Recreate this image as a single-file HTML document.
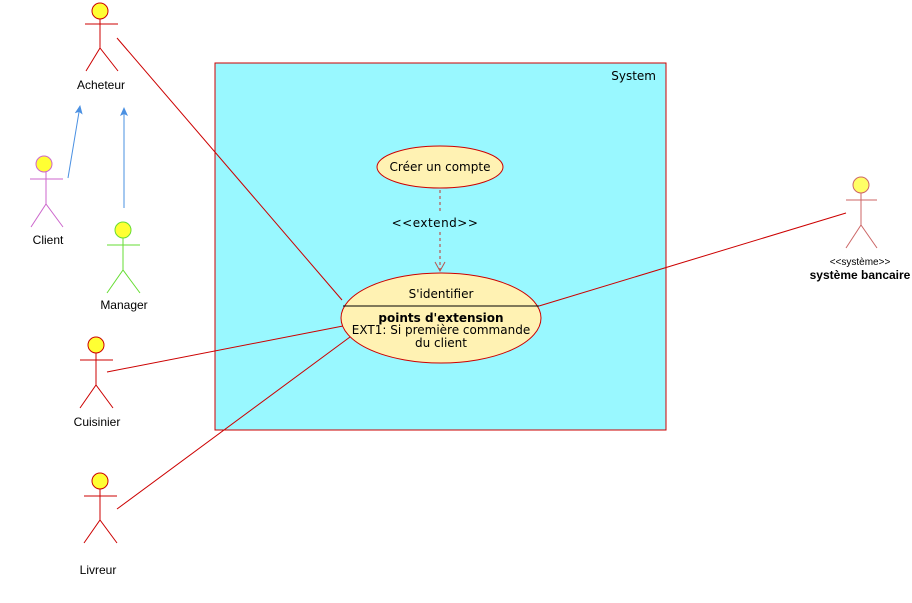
<!DOCTYPE html>
<html><head><meta charset="utf-8"><style>
html,body{margin:0;padding:0;background:#fff;}
svg{display:block;font-family:"Liberation Sans","DejaVu Sans",sans-serif;}
.dj{font-family:"DejaVu Sans","Liberation Sans",sans-serif;}
</style></head><body>
<svg width="912" height="603" viewBox="0 0 912 603" xmlns="http://www.w3.org/2000/svg">
<defs>
<marker id="blue" markerWidth="10" markerHeight="10" refX="8" refY="5" orient="auto" markerUnits="userSpaceOnUse"><path d="M0,1 L9,5 L0,9 L2,5 Z" fill="#4a90e2"/></marker>
<marker id="open" markerWidth="12" markerHeight="12" refX="10" refY="6" orient="auto" markerUnits="userSpaceOnUse"><path d="M1,1 L10,6 L1,11" fill="none" stroke="#b85450" stroke-width="1"/></marker>
</defs>
<rect x="215" y="63" width="451" height="367" fill="#99f8ff" stroke="#cc0000" stroke-width="1"/>
<text x="656" y="80" font-size="12" text-anchor="end" fill="#000" class="dj">System</text>

<g stroke="#cc0000" stroke-width="1" fill="none">
<line x1="117" y1="38" x2="342" y2="300"/>
<line x1="107" y1="372" x2="343" y2="326"/>
<line x1="117" y1="509" x2="350" y2="337"/>
<line x1="846" y1="213" x2="539" y2="306"/>
</g>
<line x1="68" y1="178" x2="80" y2="106" stroke="#4a90e2" stroke-width="1" marker-end="url(#blue)"/>
<line x1="124" y1="208" x2="124" y2="108" stroke="#4a90e2" stroke-width="1" marker-end="url(#blue)"/>

<ellipse cx="440" cy="167" rx="63" ry="21" fill="#fff2b3" stroke="#cc0000"/>
<text x="440" y="171" font-size="12" text-anchor="middle" class="dj">Créer un compte</text>
<line x1="440" y1="190" x2="440" y2="271" stroke="#b85450" stroke-width="1.2" stroke-dasharray="3,3" marker-end="url(#open)"/>
<rect x="394" y="214" width="82" height="16" fill="#99f8ff"/>
<text x="435" y="227" font-size="12" text-anchor="middle" class="dj" letter-spacing="0.5">&lt;&lt;extend&gt;&gt;</text>

<ellipse cx="441" cy="318" rx="100" ry="45" fill="#fff2b3" stroke="#cc0000"/>
<text x="441" y="298" font-size="12" text-anchor="middle" class="dj">S'identifier</text>
<line x1="343" y1="306" x2="539" y2="306" stroke="#000"/>
<text x="441" y="322" font-size="12" font-weight="bold" text-anchor="middle" class="dj">points d'extension</text>
<text x="441" y="334" font-size="12" text-anchor="middle" class="dj">EXT1: Si première commande</text>
<text x="441" y="347" font-size="12" text-anchor="middle" class="dj">du client</text>

<!-- actors -->
<g fill="none" stroke-width="1">
<g stroke="#cc0000"><circle cx="100" cy="11" r="8" fill="#ffff33"/><line x1="85" y1="24" x2="118" y2="24"/><line x1="100" y1="19" x2="100" y2="48"/><path d="M86,71 L100,48 L118,71"/></g>
<g stroke="#cc66cc"><circle cx="44" cy="164" r="8" fill="#ffff33"/><line x1="30" y1="179" x2="63" y2="179"/><line x1="46" y1="172" x2="46" y2="204"/><path d="M31,227 L46,204 L63,227"/></g>
<g stroke="#66dd33"><circle cx="123" cy="230" r="8" fill="#ffff33"/><line x1="107" y1="245" x2="140" y2="245"/><line x1="123" y1="238" x2="123" y2="270"/><path d="M107,293 L123,270 L140,293"/></g>
<g stroke="#cc0000"><circle cx="96" cy="345" r="8" fill="#ffff33"/><line x1="80" y1="360" x2="113" y2="360"/><line x1="96" y1="353" x2="96" y2="385"/><path d="M80,408 L96,385 L113,408"/></g>
<g stroke="#cc0000"><circle cx="100" cy="481" r="8" fill="#ffff33"/><line x1="84" y1="496" x2="117" y2="496"/><line x1="100" y1="489" x2="100" y2="520"/><path d="M84,543 L100,520 L117,543"/></g>
<g stroke="#cc6666"><circle cx="861" cy="185" r="8" fill="#ffff66"/><line x1="846" y1="200" x2="877" y2="200"/><line x1="861" y1="193" x2="861" y2="225"/><path d="M846,248 L861,225 L877,248"/></g>
</g>
<g font-size="12" text-anchor="middle" fill="#000">
<text x="101" y="89">Acheteur</text>
<text x="48" y="244">Client</text>
<text x="124" y="309">Manager</text>
<text x="97" y="426">Cuisinier</text>
<text x="98" y="574">Livreur</text>
<text x="860" y="265" font-size="10">&lt;&lt;système&gt;&gt;</text>
<text x="860" y="279" font-weight="bold">système bancaire</text>
</g>
</svg>
</body></html>
